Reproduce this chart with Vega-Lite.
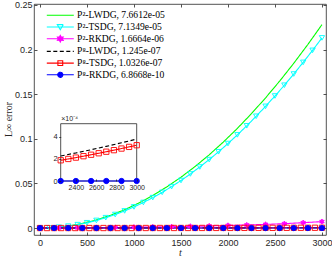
{
  "$schema": "https://vega.github.io/schema/vega-lite/v6.json",
  "width": 292,
  "height": 231,
  "autosize": {"type": "none"},
  "padding": {"left": 34, "top": 4, "right": 6, "bottom": 25},
  "background": "white",
  "config": {
    "view": {"stroke": "#262626", "strokeWidth": 0.8},
    "axis": {"grid": false, "domainColor": "#262626", "tickColor": "#262626", "labelColor": "#262626", "labelFont": "Liberation Sans", "labelFontSize": 9, "domainWidth": 0.8, "tickWidth": 0.8}
  },
  "datasets": {
    "d": [
      {"s": "P²-LWDG, 7.6612e-05", "t": 0, "v": 0},
      {"s": "P²-LWDG, 7.6612e-05", "t": 150, "v": 0.00057},
      {"s": "P²-LWDG, 7.6612e-05", "t": 300, "v": 0.00228},
      {"s": "P²-LWDG, 7.6612e-05", "t": 450, "v": 0.00513},
      {"s": "P²-LWDG, 7.6612e-05", "t": 600, "v": 0.00912},
      {"s": "P²-LWDG, 7.6612e-05", "t": 750, "v": 0.01425},
      {"s": "P²-LWDG, 7.6612e-05", "t": 900, "v": 0.02052},
      {"s": "P²-LWDG, 7.6612e-05", "t": 1050, "v": 0.02793},
      {"s": "P²-LWDG, 7.6612e-05", "t": 1200, "v": 0.03648},
      {"s": "P²-LWDG, 7.6612e-05", "t": 1350, "v": 0.04616},
      {"s": "P²-LWDG, 7.6612e-05", "t": 1500, "v": 0.05699},
      {"s": "P²-LWDG, 7.6612e-05", "t": 1650, "v": 0.06896},
      {"s": "P²-LWDG, 7.6612e-05", "t": 1800, "v": 0.08207},
      {"s": "P²-LWDG, 7.6612e-05", "t": 1950, "v": 0.09632},
      {"s": "P²-LWDG, 7.6612e-05", "t": 2100, "v": 0.11171},
      {"s": "P²-LWDG, 7.6612e-05", "t": 2250, "v": 0.12823},
      {"s": "P²-LWDG, 7.6612e-05", "t": 2400, "v": 0.1459},
      {"s": "P²-LWDG, 7.6612e-05", "t": 2550, "v": 0.16471},
      {"s": "P²-LWDG, 7.6612e-05", "t": 2700, "v": 0.18466},
      {"s": "P²-LWDG, 7.6612e-05", "t": 2850, "v": 0.20575},
      {"s": "P²-LWDG, 7.6612e-05", "t": 3000, "v": 0.22797},
      {"s": "P²-TSDG, 7.1349e-05", "t": 0, "v": 0},
      {"s": "P²-TSDG, 7.1349e-05", "t": 100, "v": 0.00024},
      {"s": "P²-TSDG, 7.1349e-05", "t": 200, "v": 0.00095},
      {"s": "P²-TSDG, 7.1349e-05", "t": 300, "v": 0.00213},
      {"s": "P²-TSDG, 7.1349e-05", "t": 400, "v": 0.00379},
      {"s": "P²-TSDG, 7.1349e-05", "t": 500, "v": 0.00592},
      {"s": "P²-TSDG, 7.1349e-05", "t": 600, "v": 0.00852},
      {"s": "P²-TSDG, 7.1349e-05", "t": 700, "v": 0.0116},
      {"s": "P²-TSDG, 7.1349e-05", "t": 800, "v": 0.01516},
      {"s": "P²-TSDG, 7.1349e-05", "t": 900, "v": 0.01918},
      {"s": "P²-TSDG, 7.1349e-05", "t": 1000, "v": 0.02368},
      {"s": "P²-TSDG, 7.1349e-05", "t": 1100, "v": 0.02865},
      {"s": "P²-TSDG, 7.1349e-05", "t": 1200, "v": 0.0341},
      {"s": "P²-TSDG, 7.1349e-05", "t": 1300, "v": 0.04002},
      {"s": "P²-TSDG, 7.1349e-05", "t": 1400, "v": 0.04641},
      {"s": "P²-TSDG, 7.1349e-05", "t": 1500, "v": 0.05328},
      {"s": "P²-TSDG, 7.1349e-05", "t": 1600, "v": 0.06062},
      {"s": "P²-TSDG, 7.1349e-05", "t": 1700, "v": 0.06844},
      {"s": "P²-TSDG, 7.1349e-05", "t": 1800, "v": 0.07672},
      {"s": "P²-TSDG, 7.1349e-05", "t": 1900, "v": 0.08548},
      {"s": "P²-TSDG, 7.1349e-05", "t": 2000, "v": 0.09472},
      {"s": "P²-TSDG, 7.1349e-05", "t": 2100, "v": 0.10443},
      {"s": "P²-TSDG, 7.1349e-05", "t": 2200, "v": 0.11461},
      {"s": "P²-TSDG, 7.1349e-05", "t": 2300, "v": 0.12527},
      {"s": "P²-TSDG, 7.1349e-05", "t": 2400, "v": 0.1364},
      {"s": "P²-TSDG, 7.1349e-05", "t": 2500, "v": 0.148},
      {"s": "P²-TSDG, 7.1349e-05", "t": 2600, "v": 0.16008},
      {"s": "P²-TSDG, 7.1349e-05", "t": 2700, "v": 0.17263},
      {"s": "P²-TSDG, 7.1349e-05", "t": 2800, "v": 0.18565},
      {"s": "P²-TSDG, 7.1349e-05", "t": 2900, "v": 0.19915},
      {"s": "P²-TSDG, 7.1349e-05", "t": 3000, "v": 0.21312},
      {"s": "P²-RKDG, 1.6664e-06", "t": 0, "v": 0},
      {"s": "P²-RKDG, 1.6664e-06", "t": 200, "v": 0.0001},
      {"s": "P²-RKDG, 1.6664e-06", "t": 400, "v": 0.0002},
      {"s": "P²-RKDG, 1.6664e-06", "t": 600, "v": 0.0004},
      {"s": "P²-RKDG, 1.6664e-06", "t": 800, "v": 0.0006},
      {"s": "P²-RKDG, 1.6664e-06", "t": 1000, "v": 0.0009},
      {"s": "P²-RKDG, 1.6664e-06", "t": 1200, "v": 0.0012},
      {"s": "P²-RKDG, 1.6664e-06", "t": 1400, "v": 0.0015},
      {"s": "P²-RKDG, 1.6664e-06", "t": 1600, "v": 0.0019},
      {"s": "P²-RKDG, 1.6664e-06", "t": 1800, "v": 0.0023},
      {"s": "P²-RKDG, 1.6664e-06", "t": 2000, "v": 0.0029},
      {"s": "P²-RKDG, 1.6664e-06", "t": 2200, "v": 0.0034},
      {"s": "P²-RKDG, 1.6664e-06", "t": 2400, "v": 0.0041},
      {"s": "P²-RKDG, 1.6664e-06", "t": 2600, "v": 0.0049},
      {"s": "P²-RKDG, 1.6664e-06", "t": 2800, "v": 0.006},
      {"s": "P²-RKDG, 1.6664e-06", "t": 3000, "v": 0.0072},
      {"s": "P⁸-LWDG, 1.245e-07", "t": 0, "v": 0},
      {"s": "P⁸-LWDG, 1.245e-07", "t": 150, "v": 0.00000431},
      {"s": "P⁸-LWDG, 1.245e-07", "t": 300, "v": 0.00001018},
      {"s": "P⁸-LWDG, 1.245e-07", "t": 450, "v": 0.00001759},
      {"s": "P⁸-LWDG, 1.245e-07", "t": 600, "v": 0.00002654},
      {"s": "P⁸-LWDG, 1.245e-07", "t": 750, "v": 0.00003705},
      {"s": "P⁸-LWDG, 1.245e-07", "t": 900, "v": 0.0000491},
      {"s": "P⁸-LWDG, 1.245e-07", "t": 1050, "v": 0.00006271},
      {"s": "P⁸-LWDG, 1.245e-07", "t": 1200, "v": 0.00007786},
      {"s": "P⁸-LWDG, 1.245e-07", "t": 1350, "v": 0.00009455},
      {"s": "P⁸-LWDG, 1.245e-07", "t": 1500, "v": 0.0001128},
      {"s": "P⁸-LWDG, 1.245e-07", "t": 1650, "v": 0.00013259},
      {"s": "P⁸-LWDG, 1.245e-07", "t": 1800, "v": 0.00015394},
      {"s": "P⁸-LWDG, 1.245e-07", "t": 1950, "v": 0.00017683},
      {"s": "P⁸-LWDG, 1.245e-07", "t": 2100, "v": 0.00020126},
      {"s": "P⁸-LWDG, 1.245e-07", "t": 2250, "v": 0.00022725},
      {"s": "P⁸-LWDG, 1.245e-07", "t": 2400, "v": 0.00025478},
      {"s": "P⁸-LWDG, 1.245e-07", "t": 2550, "v": 0.00028387},
      {"s": "P⁸-LWDG, 1.245e-07", "t": 2700, "v": 0.0003145},
      {"s": "P⁸-LWDG, 1.245e-07", "t": 2850, "v": 0.00034667},
      {"s": "P⁸-LWDG, 1.245e-07", "t": 3000, "v": 0.0003804},
      {"s": "P⁸-TSDG, 1.0326e-07", "t": 0, "v": 0},
      {"s": "P⁸-TSDG, 1.0326e-07", "t": 75, "v": 0.00000088},
      {"s": "P⁸-TSDG, 1.0326e-07", "t": 150, "v": 0.00000214},
      {"s": "P⁸-TSDG, 1.0326e-07", "t": 225, "v": 0.00000376},
      {"s": "P⁸-TSDG, 1.0326e-07", "t": 300, "v": 0.00000576},
      {"s": "P⁸-TSDG, 1.0326e-07", "t": 375, "v": 0.00000813},
      {"s": "P⁸-TSDG, 1.0326e-07", "t": 450, "v": 0.00001087},
      {"s": "P⁸-TSDG, 1.0326e-07", "t": 525, "v": 0.00001398},
      {"s": "P⁸-TSDG, 1.0326e-07", "t": 600, "v": 0.00001746},
      {"s": "P⁸-TSDG, 1.0326e-07", "t": 675, "v": 0.00002132},
      {"s": "P⁸-TSDG, 1.0326e-07", "t": 750, "v": 0.00002554},
      {"s": "P⁸-TSDG, 1.0326e-07", "t": 825, "v": 0.00003013},
      {"s": "P⁸-TSDG, 1.0326e-07", "t": 900, "v": 0.0000351},
      {"s": "P⁸-TSDG, 1.0326e-07", "t": 975, "v": 0.00004044},
      {"s": "P⁸-TSDG, 1.0326e-07", "t": 1050, "v": 0.00004615},
      {"s": "P⁸-TSDG, 1.0326e-07", "t": 1125, "v": 0.00005223},
      {"s": "P⁸-TSDG, 1.0326e-07", "t": 1200, "v": 0.00005868},
      {"s": "P⁸-TSDG, 1.0326e-07", "t": 1275, "v": 0.00006551},
      {"s": "P⁸-TSDG, 1.0326e-07", "t": 1350, "v": 0.0000727},
      {"s": "P⁸-TSDG, 1.0326e-07", "t": 1425, "v": 0.00008026},
      {"s": "P⁸-TSDG, 1.0326e-07", "t": 1500, "v": 0.0000882},
      {"s": "P⁸-TSDG, 1.0326e-07", "t": 1575, "v": 0.00009651},
      {"s": "P⁸-TSDG, 1.0326e-07", "t": 1650, "v": 0.00010519},
      {"s": "P⁸-TSDG, 1.0326e-07", "t": 1725, "v": 0.00011424},
      {"s": "P⁸-TSDG, 1.0326e-07", "t": 1800, "v": 0.00012366},
      {"s": "P⁸-TSDG, 1.0326e-07", "t": 1875, "v": 0.00013346},
      {"s": "P⁸-TSDG, 1.0326e-07", "t": 1950, "v": 0.00014362},
      {"s": "P⁸-TSDG, 1.0326e-07", "t": 2025, "v": 0.00015415},
      {"s": "P⁸-TSDG, 1.0326e-07", "t": 2100, "v": 0.00016506},
      {"s": "P⁸-TSDG, 1.0326e-07", "t": 2175, "v": 0.00017634},
      {"s": "P⁸-TSDG, 1.0326e-07", "t": 2250, "v": 0.00018799},
      {"s": "P⁸-TSDG, 1.0326e-07", "t": 2325, "v": 0.00020001},
      {"s": "P⁸-TSDG, 1.0326e-07", "t": 2400, "v": 0.0002124},
      {"s": "P⁸-TSDG, 1.0326e-07", "t": 2475, "v": 0.00022517},
      {"s": "P⁸-TSDG, 1.0326e-07", "t": 2550, "v": 0.0002383},
      {"s": "P⁸-TSDG, 1.0326e-07", "t": 2625, "v": 0.0002518},
      {"s": "P⁸-TSDG, 1.0326e-07", "t": 2700, "v": 0.00026568},
      {"s": "P⁸-TSDG, 1.0326e-07", "t": 2775, "v": 0.00027993},
      {"s": "P⁸-TSDG, 1.0326e-07", "t": 2850, "v": 0.00029455},
      {"s": "P⁸-TSDG, 1.0326e-07", "t": 2925, "v": 0.00030954},
      {"s": "P⁸-TSDG, 1.0326e-07", "t": 3000, "v": 0.0003249},
      {"s": "P⁸-RKDG, 6.8668e-10", "t": 0, "v": 0},
      {"s": "P⁸-RKDG, 6.8668e-10", "t": 150, "v": 3.5e-11},
      {"s": "P⁸-RKDG, 6.8668e-10", "t": 300, "v": 7e-11},
      {"s": "P⁸-RKDG, 6.8668e-10", "t": 450, "v": 1.0e-10},
      {"s": "P⁸-RKDG, 6.8668e-10", "t": 600, "v": 1.4e-10},
      {"s": "P⁸-RKDG, 6.8668e-10", "t": 750, "v": 1.7e-10},
      {"s": "P⁸-RKDG, 6.8668e-10", "t": 900, "v": 2.1e-10},
      {"s": "P⁸-RKDG, 6.8668e-10", "t": 1050, "v": 2.4e-10},
      {"s": "P⁸-RKDG, 6.8668e-10", "t": 1200, "v": 2.8e-10},
      {"s": "P⁸-RKDG, 6.8668e-10", "t": 1350, "v": 3.1e-10},
      {"s": "P⁸-RKDG, 6.8668e-10", "t": 1500, "v": 3.5e-10},
      {"s": "P⁸-RKDG, 6.8668e-10", "t": 1650, "v": 3.8e-10},
      {"s": "P⁸-RKDG, 6.8668e-10", "t": 1800, "v": 4.1e-10},
      {"s": "P⁸-RKDG, 6.8668e-10", "t": 1950, "v": 4.5e-10},
      {"s": "P⁸-RKDG, 6.8668e-10", "t": 2100, "v": 4.8e-10},
      {"s": "P⁸-RKDG, 6.8668e-10", "t": 2250, "v": 5.2e-10},
      {"s": "P⁸-RKDG, 6.8668e-10", "t": 2400, "v": 5.5e-10},
      {"s": "P⁸-RKDG, 6.8668e-10", "t": 2550, "v": 5.9e-10},
      {"s": "P⁸-RKDG, 6.8668e-10", "t": 2700, "v": 6.2e-10},
      {"s": "P⁸-RKDG, 6.8668e-10", "t": 2850, "v": 6.5e-10},
      {"s": "P⁸-RKDG, 6.8668e-10", "t": 3000, "v": 6.9e-10}
    ]
  },
  "data": {"name": "d"},
  "layer": [
    {
      "layer": [
        {
          "mark": {"type": "line", "strokeWidth": 1.1},
          "encoding": {
            "x": {"field": "t", "type": "quantitative", "scale": {"domain": [-64, 3043], "nice": false, "zero": false},
              "axis": {"orient": "bottom", "values": [0, 500, 1000, 1500, 2000, 2500, 3000], "format": "d", "tickSize": -3, "labelPadding": 6, "domain": false,
                "title": "t", "titleFont": "Liberation Serif", "titleFontStyle": "italic", "titleFontWeight": "normal", "titleFontSize": 10, "titleColor": "#262626", "titleX": 146, "titleY": 17, "titleBaseline": "middle"}},
            "y": {"field": "v", "type": "quantitative", "scale": {"domain": [-0.0078, 0.2511], "nice": false, "zero": false},
              "axis": {"orient": "left", "values": [0, 0.05, 0.1, 0.15, 0.2, 0.25], "format": "~g", "tickSize": -3, "labelPadding": 5, "domain": false,
                "title": "L∞ error", "titleFont": "Liberation Serif", "titleFontWeight": "normal", "titleFontSize": 10, "titleColor": "#262626", "titleAngle": -90, "titleX": -26, "titleY": 115, "titleBaseline": "middle", "titleAlign": "center"}},
            "color": {"field": "s", "type": "nominal",
              "scale": {"domain": ["P²-LWDG, 7.6612e-05", "P²-TSDG, 7.1349e-05", "P²-RKDG, 1.6664e-06", "P⁸-LWDG, 1.245e-07", "P⁸-TSDG, 1.0326e-07", "P⁸-RKDG, 6.8668e-10"],
                "range": ["#00ff00", "#00ffff", "#ff00ff", "#000000", "#ff0000", "#0000ff"]},
              "legend": {"orient": "none", "legendX": 21.5, "legendY": 6.5, "title": null, "padding": 0,
                "labelFont": "Liberation Serif", "labelFontSize": 9.6, "labelColor": "#000000", "symbolSize": 36, "labelOffset": 12, "rowPadding": 0.7, "symbolStrokeWidth": 1.1,
                "encode": {"symbols": {"update": {
                  "shape": {"signal": "['M-4.5,0H4.5','M-4.5,0H4.5M-1,-0.8H1L0,0.9Z','M-4.5,0H4.5M0,-1.1L0.3,-0.52L0.95,-0.55L0.6,0L0.95,0.55L0.3,0.52L0,1.1L-0.3,0.52L-0.95,0.55L-0.6,0L-0.95,-0.55L-0.3,-0.52Z','M-4.5,0H4.5','M-4.5,0H4.5M-0.8,-0.8H0.8V0.8H-0.8Z','M-4.5,0H4.5M0.85,0A0.85,0.85,0,1,1,-0.85,0A0.85,0.85,0,1,1,0.85,0Z'][datum.index]"},
                  "fill": {"signal": "['transparent','transparent','#ff00ff','transparent','transparent','#0000ff'][datum.index]"},
                  "strokeDash": {"signal": "datum.index === 3 ? [4, 2.5] : [1, 0]"},
                  "opacity": {"value": 1}
                }}}}},
            "strokeDash": {"field": "s", "type": "nominal",
              "scale": {"domain": ["P²-LWDG, 7.6612e-05", "P²-TSDG, 7.1349e-05", "P²-RKDG, 1.6664e-06", "P⁸-LWDG, 1.245e-07", "P⁸-TSDG, 1.0326e-07", "P⁸-RKDG, 6.8668e-10"],
                "range": [[1, 0], [1, 0], [1, 0], [4, 2.5], [1, 0], [1, 0]]}, "legend": null}
          }
        },
        {
          "transform": [{"filter": {"field": "s", "oneOf": ["P²-TSDG, 7.1349e-05", "P²-RKDG, 1.6664e-06", "P⁸-TSDG, 1.0326e-07", "P⁸-RKDG, 6.8668e-10"]}}],
          "mark": {"type": "point", "filled": false, "strokeWidth": 0.9, "opacity": 1, "size": 28},
          "encoding": {
            "x": {"field": "t", "type": "quantitative", "axis": null},
            "y": {"field": "v", "type": "quantitative", "axis": null},
            "color": {"field": "s", "type": "nominal"},
            "shape": {"field": "s", "type": "nominal",
              "scale": {"domain": ["P²-TSDG, 7.1349e-05", "P²-RKDG, 1.6664e-06", "P⁸-TSDG, 1.0326e-07", "P⁸-RKDG, 6.8668e-10"],
                "range": ["triangle-down", "M0,-1L0.275,-0.476L0.866,-0.5L0.55,0L0.866,0.5L0.275,0.476L0,1L-0.275,0.476L-0.866,0.5L-0.55,0L-0.866,-0.5L-0.275,-0.476Z", "square", "circle"]}, "legend": null},
            "fill": {"field": "s", "type": "nominal",
              "scale": {"domain": ["P²-TSDG, 7.1349e-05", "P²-RKDG, 1.6664e-06", "P⁸-TSDG, 1.0326e-07", "P⁸-RKDG, 6.8668e-10"],
                "range": ["transparent", "#ff00ff", "transparent", "#0000ff"]}, "legend": null}
          }
        },
        {
          "mark": {"type": "point", "opacity": 0},
          "encoding": {
            "x": {"field": "t", "type": "quantitative", "axis": {"orient": "top", "values": [0, 500, 1000, 1500, 2000, 2500, 3000], "labels": false, "tickSize": -3, "domain": false, "title": null}},
            "y": {"field": "v", "type": "quantitative", "axis": {"orient": "right", "values": [0, 0.05, 0.1, 0.15, 0.2, 0.25], "labels": false, "tickSize": -3, "domain": false, "title": null}}
          }
        }
      ],
      "resolve": {"axis": {"x": "independent", "y": "independent"}}
    },
    {
      "layer": [
        {
          "data": {"values": [{}]},
          "mark": {"type": "rect", "fill": "white", "stroke": "#262626", "strokeWidth": 0.8},
          "encoding": {
            "x": {"datum": 2250, "type": "quantitative", "scale": {"domain": [2250, 3000], "range": [26.7, 102.7], "nice": false, "zero": false},
              "axis": {"orient": "bottom", "offset": -54, "values": [2400, 2600, 2800, 3000], "format": "d", "tickSize": -2, "labelPadding": 4, "labelFontSize": 7, "labelOverlap": false, "labelFlush": false, "title": null, "domain": false, "zindex": 1}},
            "x2": {"datum": 3000},
            "y": {"datum": 0, "type": "quantitative", "scale": {"domain": [0, 0.00052], "range": [177, 119.7], "nice": false, "zero": false},
              "axis": {"orient": "left", "offset": -26.7, "values": [0, 0.0002, 0.0004], "labelExpr": "datum.value > 0.0003 ? '4' : (datum.value > 0.0001 ? '2' : '0')", "tickSize": 2, "labelPadding": 1.5, "labelFontSize": 7.5, "labelOverlap": false, "labelFlush": false, "labelBound": false, "labelBaseline": "middle", "labelAlign": "right", "domain": false, "zindex": 2,
                "title": "×10⁻⁴", "titleAngle": 0, "titleX": 0, "titleY": 117, "titleAlign": "left", "titleBaseline": "bottom", "titleFont": "Liberation Sans", "titleFontSize": 7, "titleFontWeight": "normal", "titleColor": "#262626"}},
            "y2": {"datum": 0.00052}
          }
        },
        {
          "transform": [{"filter": {"field": "t", "gte": 2250}}, {"filter": {"field": "s", "oneOf": ["P⁸-LWDG, 1.245e-07", "P⁸-TSDG, 1.0326e-07", "P⁸-RKDG, 6.8668e-10"]}}],
          "mark": {"type": "line", "strokeWidth": 1.1},
          "encoding": {
            "x": {"field": "t", "type": "quantitative"},
            "y": {"field": "v", "type": "quantitative"},
            "color": {"field": "s", "type": "nominal"},
            "strokeDash": {"field": "s", "type": "nominal"}
          }
        },
        {
          "transform": [{"filter": {"field": "t", "gte": 2250}}, {"filter": {"field": "s", "oneOf": ["P⁸-TSDG, 1.0326e-07", "P⁸-RKDG, 6.8668e-10"]}}],
          "mark": {"type": "point", "filled": false, "strokeWidth": 0.9, "opacity": 1, "size": 28},
          "encoding": {
            "x": {"field": "t", "type": "quantitative"},
            "y": {"field": "v", "type": "quantitative"},
            "color": {"field": "s", "type": "nominal"},
            "shape": {"field": "s", "type": "nominal"},
            "fill": {"field": "s", "type": "nominal"}
          }
        }
      ]
    }
  ],
  "resolve": {"scale": {"x": "independent", "y": "independent"}}
}
